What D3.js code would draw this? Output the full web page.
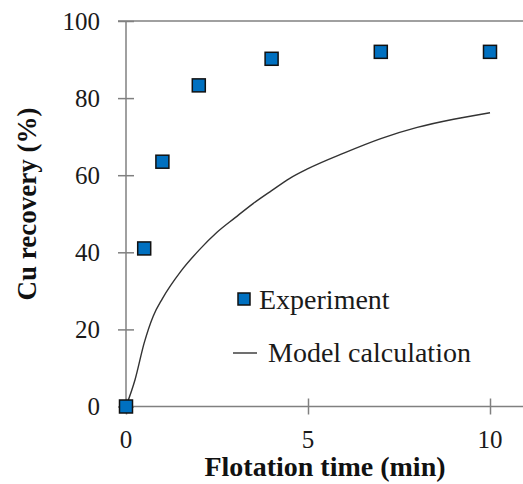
<!DOCTYPE html>
<html>
<head>
<meta charset="utf-8">
<script src="https://cdn.jsdelivr.net/npm/d3@7"></script>
</head>
<body style="margin:0;background:#fff;font-family:'Liberation Serif'">
<svg id="chart" width="523" height="484" font-family="Liberation Serif"></svg>
<script>
// measured points
const expTime = [0, 0.5, 1, 2, 4, 7, 10];
const expRecovery = [0, 41, 63.5, 83.3, 90.2, 92, 92];
// model curve
const modelTime = [0, 0.25, 0.5, 0.75, 1, 1.5, 2, 2.5, 3, 3.5, 4, 4.5, 5, 6, 7, 8, 9, 10];
const modelRecovery = [0, 7, 16.5, 23.5, 28, 35, 40.5, 45.2, 49, 52.7, 56, 59.2, 61.7, 65.8, 69.5, 72.4, 74.5, 76.2];
const xTicks = [0, 5, 10];
const yTicks = [0, 20, 40, 60, 80, 100];

const svg = d3.select('#chart');
const x = d3.scaleLinear().domain([0, 10]).range([126, 490]);
const y = d3.scaleLinear().domain([0, 100]).range([406.5, 21]);
const axisColor = '#808080';
const serif = sel => sel.attr('font-family', 'Liberation Serif').style('font-family', '"Liberation Serif"');

// top border
svg.append('line').attr('x1', 118).attr('x2', 523).attr('y1', y(100)).attr('y2', y(100))
  .attr('stroke', axisColor).attr('stroke-width', 1.5);

// axes: lines only, labels drawn as plain text below
const yAxis = svg.append('g').attr('transform', `translate(${x(0)},0)`)
  .call(d3.axisLeft(y).tickValues(yTicks).tickSize(0).tickFormat(''));
yAxis.select('.domain').remove();
yAxis.append('line').attr('y1', y(0)).attr('y2', y(100)).attr('stroke', axisColor).attr('stroke-width', 1.5);
yAxis.selectAll('.tick line').attr('x1', -8).attr('x2', 8).attr('stroke', axisColor).attr('stroke-width', 1.5);

const xAxis = svg.append('g').attr('transform', `translate(0,${y(0)})`)
  .call(d3.axisBottom(x).tickValues(xTicks).tickSize(0).tickFormat(''));
xAxis.select('.domain').remove();
xAxis.append('line').attr('x1', x(0)).attr('x2', 523).attr('stroke', axisColor).attr('stroke-width', 1.5);
xAxis.selectAll('.tick line').attr('y1', -8).attr('y2', 8).attr('stroke', axisColor).attr('stroke-width', 1.5);

// tick labels
svg.append('g').selectAll('text').data(yTicks).join('text')
  .attr('x', 100).attr('y', d => y(d) + 8.5).attr('text-anchor', 'end')
  .attr('font-size', 25).attr('fill', '#1a1a1a').call(serif).text(d => d);
svg.append('g').selectAll('text').data(xTicks).join('text')
  .attr('x', d => x(d)).attr('y', 448).attr('text-anchor', 'middle')
  .attr('font-size', 25).attr('fill', '#1a1a1a').call(serif).text(d => d);

// axis titles
svg.append('text').attr('x', 325).attr('y', 476).attr('text-anchor', 'middle')
  .attr('font-size', 28).attr('font-weight', 'bold').attr('fill', '#111').call(serif)
  .text('Flotation time (min)');
svg.append('text').attr('transform', 'translate(36,204) rotate(-90)').attr('text-anchor', 'middle')
  .attr('font-size', 27).attr('font-weight', 'bold').attr('fill', '#111').call(serif)
  .text('Cu recovery (%)');

// model curve
const line = d3.line().x(d => x(d[0])).y(d => y(d[1])).curve(d3.curveMonotoneX);
svg.append('path').datum(d3.zip(modelTime, modelRecovery)).attr('d', line)
  .attr('fill', 'none').attr('stroke', '#333').attr('stroke-width', 1.4);

// experiment markers
const s = 13;
svg.append('g').selectAll('rect').data(d3.zip(expTime, expRecovery)).join('rect')
  .attr('x', d => x(d[0]) - s / 2).attr('y', d => y(d[1]) - s / 2)
  .attr('width', s).attr('height', s)
  .attr('fill', '#0070C0').attr('stroke', '#111').attr('stroke-width', 1.5);

// legend
const lg = svg.append('g');
lg.append('rect').attr('x', 238).attr('y', 293).attr('width', 12).attr('height', 12)
  .attr('fill', '#0070C0').attr('stroke', '#111').attr('stroke-width', 1.5);
lg.append('text').attr('x', 259).attr('y', 309).attr('font-size', 28)
  .attr('fill', '#1a1a1a').call(serif).text('Experiment');
lg.append('line').attr('x1', 233).attr('x2', 257).attr('y1', 353).attr('y2', 353)
  .attr('stroke', '#333').attr('stroke-width', 1.4);
lg.append('text').attr('x', 268).attr('y', 362).attr('font-size', 28)
  .attr('fill', '#1a1a1a').call(serif).text('Model calculation');
</script>
</body>
</html>
